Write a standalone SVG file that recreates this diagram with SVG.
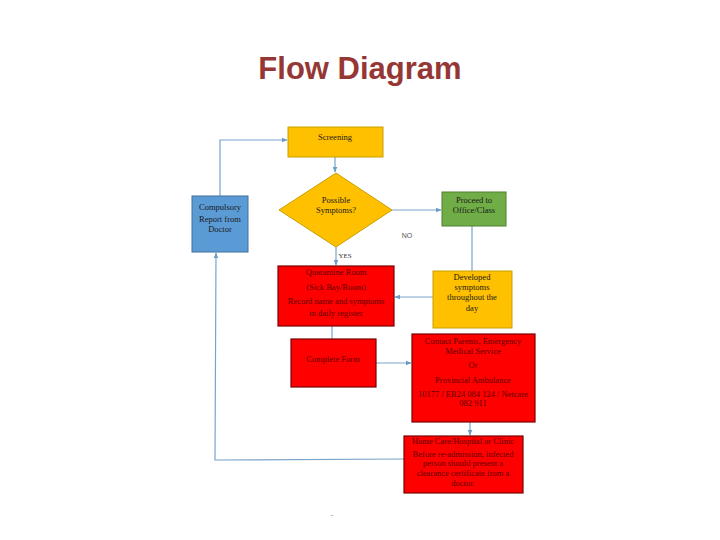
<svg xmlns="http://www.w3.org/2000/svg" width="720" height="540" viewBox="0 0 720 540">
<defs>
<marker id="ah" viewBox="0 0 10 10" refX="9" refY="5" markerWidth="6" markerHeight="6" orient="auto" markerUnits="userSpaceOnUse"><path d="M0,1 L10,5 L0,9 z" fill="#6b9bc7"/></marker>
<style>
.t{font-family:"Liberation Serif","Times New Roman",serif;font-size:8.5px;text-anchor:middle;fill:#1a1a1a}
.r{fill:#5c0000}
.c{fill:none;stroke:#7aa3c8;stroke-width:1.2}
.yel{fill:#ffc000;stroke:#c9a000;stroke-width:1}
.red{fill:#ff0000;stroke:#7a0000;stroke-width:1.2}
</style>
</defs>
<rect width="720" height="540" fill="#ffffff"/>
<text x="360" y="79" font-family="Liberation Sans, Arial, sans-serif" font-size="31" font-weight="bold" fill="#953735" text-anchor="middle">Flow Diagram</text>

<g id="connectors">
<path class="c" d="M335,157 L335,172" marker-end="url(#ah)"/>
<path class="c" d="M220,196 L220,140 L287,140" marker-end="url(#ah)"/>
<path class="c" d="M392,210 L441,210" marker-end="url(#ah)"/>
<path class="c" d="M472,226 L472,271"/>
<path class="c" d="M336,247 L336,265" marker-end="url(#ah)"/>
<path class="c" d="M433,297 L395,297" marker-end="url(#ah)"/>
<path class="c" d="M332,326 L332,339"/>
<path class="c" d="M376,363 L411,363" marker-end="url(#ah)"/>
<path class="c" d="M470,398 L470,435" marker-end="url(#ah)"/>
<path class="c" d="M404,459 L215,460 L216,253" marker-end="url(#ah)"/>
<text x="407" y="238" font-family="Liberation Sans, Arial, sans-serif" font-size="7" fill="#555" text-anchor="middle">NO</text>
<text x="345" y="258" font-family="Liberation Serif, serif" font-size="7" fill="#333" text-anchor="middle">YES</text>
</g>

<g id="screening">
<rect class="yel" x="288" y="127" width="95" height="30"/>
<text class="t" x="335" y="140">Screening</text>
</g>

<g id="possible-symptoms">
<polygon class="yel" points="336,173 392,210 336,247 279,210"/>
<text class="t" x="336" y="203">Possible</text>
<text class="t" x="336" y="213">Symptoms?</text>
</g>

<g id="compulsory-report">
<rect x="192" y="196" width="56" height="56" fill="#5b9bd5" stroke="#41719c" stroke-width="1"/>
<text class="t" x="220" y="210">Compulsory</text>
<text class="t" x="220" y="222">Report from</text>
<text class="t" x="220" y="232">Doctor</text>
</g>

<g id="proceed">
<rect x="442" y="192" width="64" height="34" fill="#70ad47" stroke="#507e32" stroke-width="1"/>
<text class="t" x="474" y="203">Proceed to</text>
<text class="t" x="474" y="213">Office/Class</text>
</g>

<g id="quarantine">
<rect class="red" x="278" y="266" width="116" height="60"/>
<text class="t r" x="336" y="275">Quarantine Room</text>
<text class="t r" x="336" y="290">(Sick Bay/Room)</text>
<text class="t r" x="336" y="304">Record name and symptoms</text>
<text class="t r" x="336" y="316">in daily register</text>
</g>

<g id="developed">
<rect class="yel" x="433" y="271" width="79" height="57"/>
<text class="t" x="472" y="280">Developed</text>
<text class="t" x="472" y="290">symptoms</text>
<text class="t" x="472" y="300">throughout the</text>
<text class="t" x="472" y="311">day</text>
</g>

<g id="complete-form">
<rect class="red" x="291" y="339" width="85" height="48"/>
<text class="t r" x="333" y="362">Complete Form</text>
</g>

<g id="contact">
<rect class="red" x="412" y="334" width="123" height="88"/>
<text class="t r" x="473" y="344">Contact Parents, Emergency</text>
<text class="t r" x="473" y="354">Medical Service</text>
<text class="t r" x="473" y="368">Or</text>
<text class="t r" x="473" y="383">Provincial Ambulance</text>
<text class="t r" x="473" y="397" font-size="7.5">10177 / ER24 084 124 / Netcare</text>
<text class="t r" x="473" y="406" font-size="7.5">082 911</text>
</g>

<g id="home-care">
<rect class="red" x="404" y="436" width="119" height="57"/>
<text class="t r" x="463" y="444">Home Care/Hospital or Clinic</text>
<text class="t r" x="463" y="457">Before re-admission, infected</text>
<text class="t r" x="463" y="466">person should present a</text>
<text class="t r" x="463" y="476">clearance certificate from a</text>
<text class="t r" x="463" y="486">doctor.</text>
</g>
<text x="332" y="517" font-family="Liberation Sans, sans-serif" font-size="5" fill="#888" text-anchor="middle">~</text>
</svg>
